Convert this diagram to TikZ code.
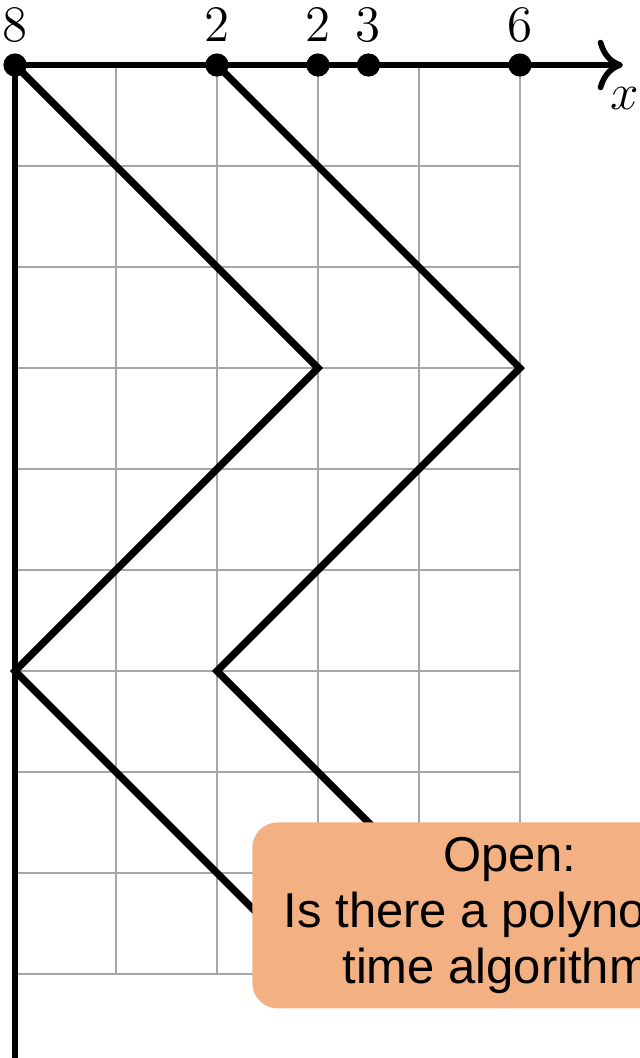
\documentclass[tikz,border=0pt]{standalone}
\usepackage{fontspec}
\newfontfamily\boxfont{Liberation Sans}
\usetikzlibrary{arrows.meta, positioning}
\definecolor{openorange}{HTML}{F3B083}

\begin{document}
\begin{tikzpicture}[font=\Large,
  dot/.style={circle,fill=black,inner sep=0pt,minimum size=0.23cm},
  zig/.style={line width=2pt,line join=miter}]
  \clip (-0.1485,-9.832) rectangle (6.188,0.6436);
  % ---------- grade ----------
  \draw[gray!70,line width=0.6pt] (0,-9) grid (5,0);
  % ---------- eixos ----------
  \draw[line width=1.6pt,-{To[length=2.5mm,width=5mm]}] (0,0) -- (6.02,0) coordinate (xend);
  \node[below left=0.1cm and -0.28cm of xend] (xlab) {$x$};
  \draw[line width=1.6pt] (0,0) -- (0,-9.9);
  % ---------- pontos ----------
  \foreach \name/\x/\w in {p8/0/8, p2a/2/2, p2b/3/2, p3/3.5/3, p6/5/6}
    \node[dot,label={[inner sep=3pt]above:$\w$}] (\name) at (\x,0) {};
  % ---------- zigue-zagues ----------
  \coordinate (za1) at (3,-3);
  \coordinate (za2) at (0,-6);
  \coordinate (za3) at (3,-9);
  \coordinate (zb1) at (5,-3);
  \coordinate (zb2) at (2,-6);
  \coordinate (zb3) at (5,-9);
  \draw[zig] (p8.center) -- (za1) -- (za2) -- (za3);
  \draw[zig] (p2a.center) -- (zb1) -- (zb2) -- (zb3);
  % ---------- caixa ----------
  \node[fill=openorange,rounded corners=0.25cm,minimum width=5.1cm,
    minimum height=1.84cm,align=center,
    font=\boxfont\fontsize{13.8}{15.8}\selectfont] (open) at (4.9,-8.42)
    {Open:\\Is there a polynomial\\time algorithm?};
\end{tikzpicture}
\end{document}
